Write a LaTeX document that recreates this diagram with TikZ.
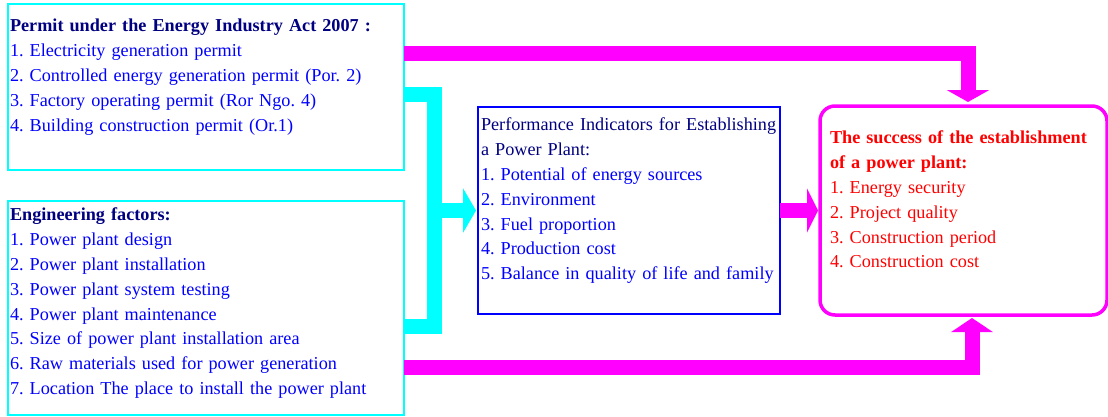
\documentclass[tikz,border=0pt]{standalone}
\usepackage{fontspec}
\setmainfont{Liberation Serif}
\usetikzlibrary{arrows.meta}
\definecolor{navy}{RGB}{0,0,128}
\definecolor{aqua}{RGB}{0,255,255}
\definecolor{fuchsia}{RGB}{255,0,255}
\frenchspacing

\begin{document}
\begin{tikzpicture}
    [x = 1pt, y = -1pt, outer sep = 0pt,
    panel/.style={rectangle, draw, inner sep = 0pt},
    listtext/.style={anchor = north west, inner sep = 0pt, align = left,
      font = \fontsize{18.2}{24.8}\selectfont},
    cyanbar/.style={draw = aqua, line width = 15pt, line join = miter},
    magentabar/.style={draw = fuchsia, line width = 15pt, line join = miter}]
    \useasboundingbox (0,0) rectangle (1108,416);

    % boxes
    \node (permit) [panel, draw = aqua, line width = 1.5pt, minimum width = 396pt,
    minimum height = 166pt] at (206,87) {};
    \node (engineering) [panel, draw = aqua, line width = 1.5pt, minimum width = 396pt,
    minimum height = 214pt] at (206,308) {};
    \node (indicators) [panel, draw = blue, line width = 2pt, minimum width = 302pt,
    minimum height = 207pt] at (629,210.5) {};
    \node (success) [panel, draw = fuchsia, line width = 3.5pt, rounded corners = 15pt,
    minimum width = 287pt, minimum height = 209pt] at (963.5,210.5) {};

    % texts
    \node (permit_text) [listtext, text width = 390pt, text = blue] at (10,14.6) {\strut
      \textbf{\color{navy}Permit under the Energy Industry Act 2007 :}\\
      1. Electricity generation permit\\
      2. Controlled energy generation permit (Por. 2)\\
      3. Factory operating permit (Ror Ngo. 4)\\
      4. Building construction permit (Or.1)};
    \node (engineering_text) [listtext, text width = 390pt, text = blue] at (10,203.6) {\strut
      \textbf{\color{navy}Engineering factors:}\\
      1. Power plant design\\
      2. Power plant installation\\
      3. Power plant system testing\\
      4. Power plant maintenance\\
      5. Size of power plant installation area\\
      6. Raw materials used for power generation\\
      7. Location The place to install the power plant};
    \node (indicators_text) [listtext, text width = 300pt, text = blue] at (481,113.6) {\strut
      {\color{navy}Performance Indicators for Establishing\\
      a Power Plant:}\\
      1. Potential of energy sources\\
      2. Environment\\
      3. Fuel proportion\\
      4. Production cost\\
      5. Balance in quality of life and family};
    \node (success_text) [listtext, text width = 275pt, text = red] at (830,126.6) {\strut
      \textbf{The success of the establishment}\\
      \textbf{of a power plant:}\\
      1. Energy security\\
      2. Project quality\\
      3. Construction period\\
      4. Construction cost};

    % arrows
    \coordinate (cyan_join) at (434.5,210.5);
    \draw [cyanbar] ([yshift=-7.5pt]permit.east) -| (cyan_join)
      |- ([yshift=-18.5pt]engineering.east);
    \draw [cyanbar, -{Triangle[length=13pt, width=44pt]}, shorten >= 2pt]
      (cyan_join) -- (indicators.west);
    \draw [magentabar, -{Triangle[length=11pt, width=44pt]}, shorten >= 2pt]
      (indicators.east) -- (success.west);
    \draw [magentabar, -{Triangle[length=12pt, width=42pt]}, shorten >= 4pt]
      ([yshift=33.5pt]permit.east) -| ([xshift=4.5pt]success.north);
    \draw [magentabar, -{Triangle[length=14pt, width=41pt]}, shorten >= 3pt]
      ([yshift=-59.5pt]engineering.east) -| ([xshift=8.5pt]success.south);
  \end{tikzpicture}
\end{document}
